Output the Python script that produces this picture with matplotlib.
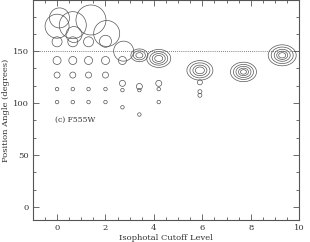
import numpy as np
import matplotlib
matplotlib.use('Agg')
import matplotlib.pyplot as plt
from matplotlib.path import Path
from matplotlib.ticker import MultipleLocator, AutoMinorLocator

# single (round) contour marks: x level, position angle, diameter in pixels
single_x = [0.0, 0.1, 0.0, 0.0, 0.0, 0.0, 0.0,
            0.65, 0.7, 0.65, 0.65, 0.65, 0.65, 0.65,
            1.4, 1.3, 1.3, 1.3, 1.3, 1.3,
            2.05, 2.0, 2.0, 2.0, 2.0, 2.0,
            2.75, 2.7, 2.7, 2.7, 2.7,
            3.4, 3.4, 3.4,
            4.2, 4.2, 4.2,
            5.9, 5.9, 5.9]
single_y = [174, 182, 159, 141, 127, 113.5, 101,
            175, 166, 159, 141, 127, 113.5, 101,
            180, 159, 141, 127, 113.5, 101,
            167, 159.5, 141, 127, 113.5, 101,
            150, 141, 119, 112.5, 96,
            116, 112.5, 89,
            119, 113.5, 101,
            120, 111, 107.5]
single_d = [24, 20, 10, 8, 6, 3.5, 3.5,
            27, 16, 10, 8, 6, 3.5, 3.5,
            30, 10, 8, 6, 3.5, 3.5,
            26, 12, 8, 6, 3.5, 3.5,
            20, 8, 6, 3.5, 3.5,
            6, 3.5, 3.5,
            6, 3.5, 3.5,
            5, 4, 4]

# concentric (nested) contours around the brightest positions
ring_x = [3.4, 3.4, 3.4,
          4.2, 4.2, 4.2, 4.2,
          5.9, 5.9, 5.9, 5.9,
          7.7, 7.7, 7.7, 7.7, 7.7,
          9.3, 9.3, 9.3, 9.3, 9.3]
ring_y = [146, 146, 146,
          143, 143, 143, 143,
          131.5, 131.5, 131.5, 131.5,
          130, 130, 130, 130, 130,
          146, 146, 146, 146, 146]
ring_d = [17, 12, 7,
          24, 18, 13, 8,
          26, 20, 14, 9,
          26, 20, 15, 10, 6,
          28, 22, 16, 11, 7]

ref_angle = 150
label_txt = '(c) F555W'

plt.rcParams['font.family'] = 'DejaVu Serif'
fig = plt.figure(figsize=(3.1, 2.42), dpi=100)
ax = fig.add_axes([0.106, 0.091, 0.859, 0.908])

px2pt = 0.72
lc = '#555555'

ax.scatter(single_x, single_y, s=(np.array(single_d) * px2pt) ** 2, marker='o',
           facecolors='none', edgecolors=lc, linewidths=0.5)

# slightly flattened ellipse marker for the nested contours
t = np.linspace(0, 2 * np.pi, 60)
ell = Path(np.column_stack([np.cos(t), 0.75 * np.sin(t)]))
ax.scatter(ring_x, ring_y, s=(np.array(ring_d) * px2pt) ** 2, marker=ell,
           facecolors='none', edgecolors=lc, linewidths=0.5)

ax.axhline(ref_angle, color=lc, lw=0.6, ls=(0, (1, 1.5)))

ax.text(-0.1, 84, label_txt, fontsize=5.5, color='#333333', va='center', ha='left')

ax.set_xlim(-1, 10)
ax.set_ylim(-12.5, 199)
ax.xaxis.set_major_locator(MultipleLocator(2))
ax.xaxis.set_minor_locator(MultipleLocator(0.5))
ax.yaxis.set_major_locator(MultipleLocator(50))
ax.yaxis.set_minor_locator(AutoMinorLocator(3))
ax.tick_params(which='both', direction='in', top=True, right=True,
               color='#555555', labelsize=6, labelcolor='#333333', width=0.6, pad=3)
ax.tick_params(which='major', length=4)
ax.tick_params(which='minor', length=2.5)
for sp in ax.spines.values():
    sp.set_color('#555555')
    sp.set_linewidth(0.8)

ax.set_xlabel('Isophotal Cutoff Level', fontsize=6, color='#333333', labelpad=1)
ax.set_ylabel('Position Angle (degrees)', fontsize=6, color='#333333', labelpad=2)

fig.savefig('out.png', dpi=100)
